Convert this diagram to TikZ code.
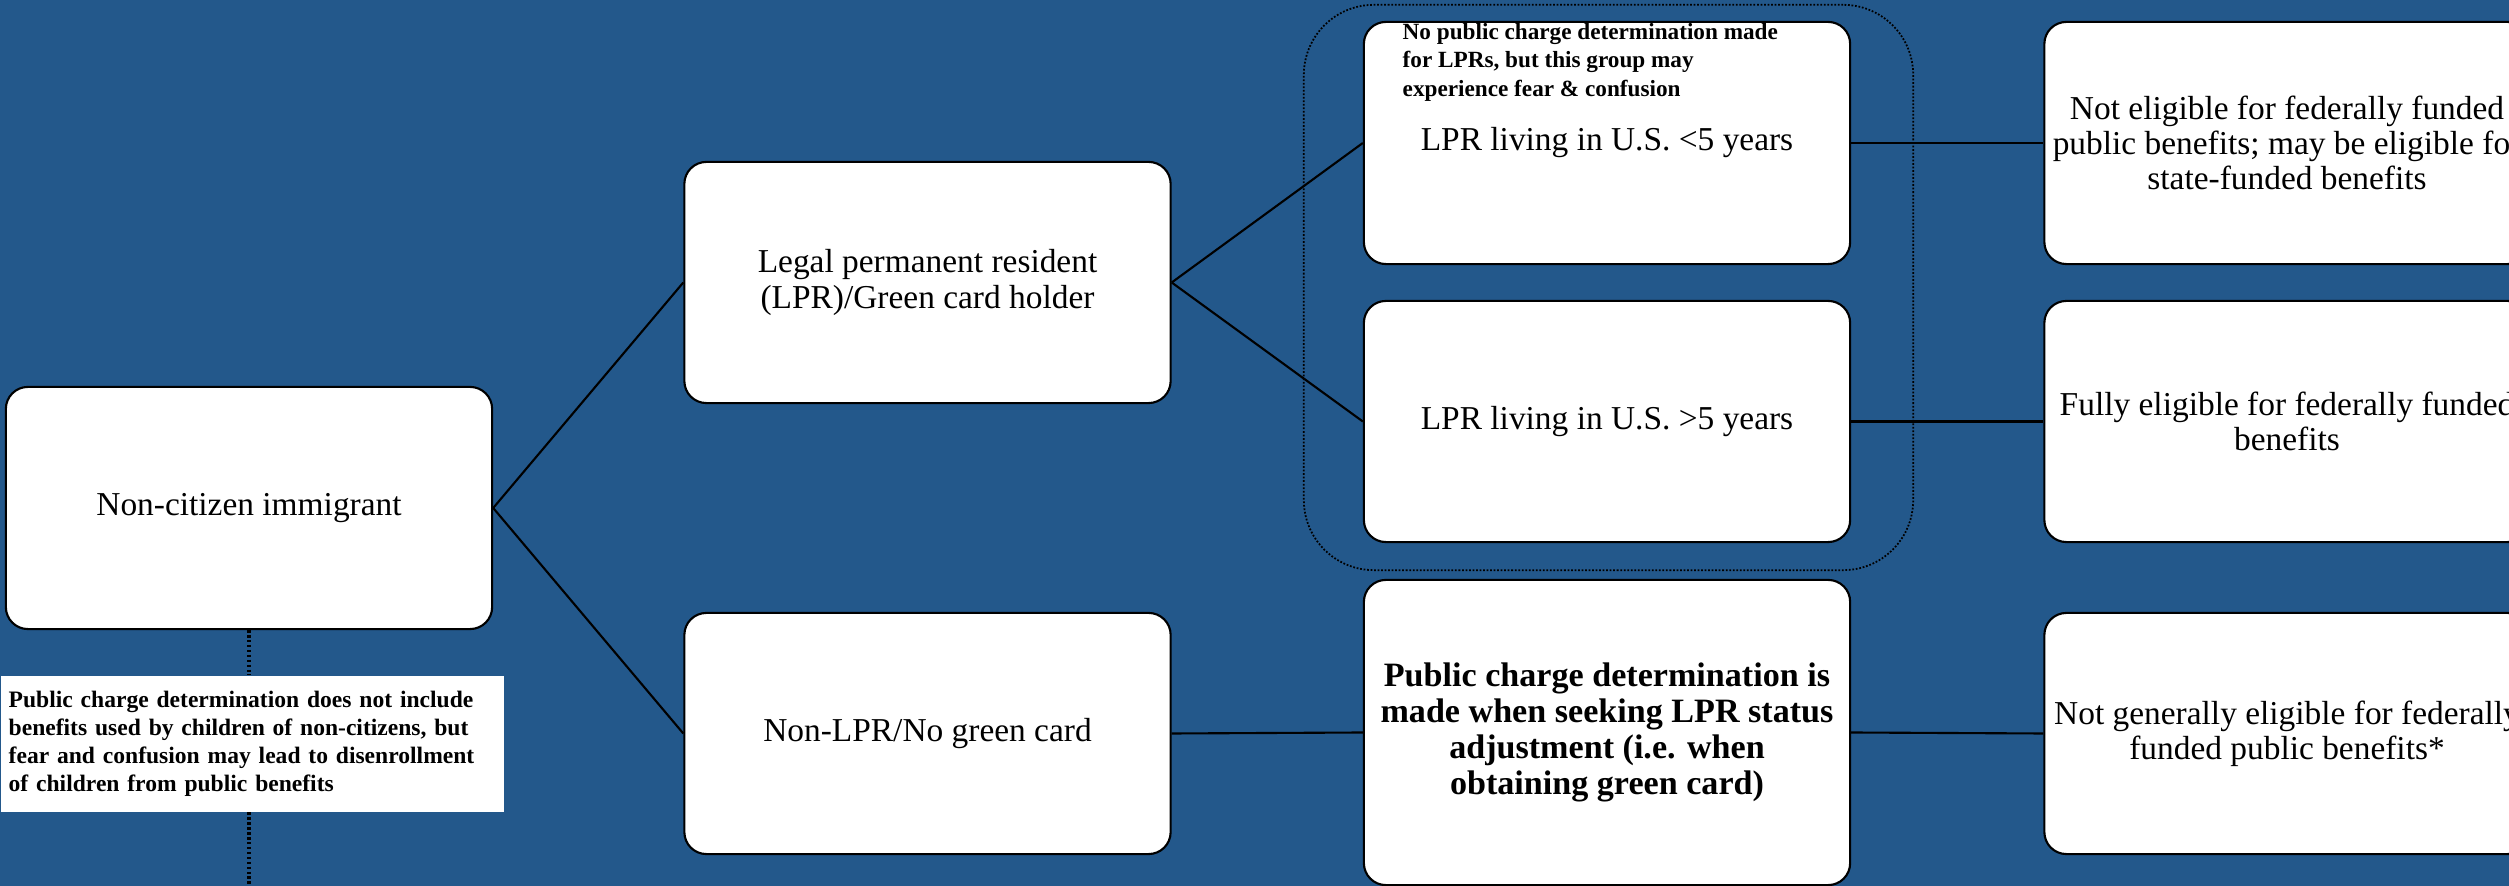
\documentclass[tikz,border=0pt]{standalone}
\usepackage{fontspec}
\setmainfont{Liberation Serif}
\definecolor{bg}{RGB}{35,88,139}
\newcommand\mainfs{\fontsize{9.5pt}{10pt}\selectfont}
\newcommand\notefs{\fontsize{6.7pt}{8pt}\selectfont\bfseries}
\newcommand\topnotefs{\fontsize{6.6pt}{8pt}\selectfont\bfseries}
\begin{document}
\begin{tikzpicture}[x=0.01cm,y=-0.01cm,
  box/.style={draw=black, line width=0.6pt, fill=white, rounded corners=0.22cm,
    minimum width=4.86cm, minimum height=2.42cm, align=center, font=\mainfs, inner sep=0pt},
  conn/.style={draw=black, line width=0.6pt},
  dotconn/.style={draw=black, line width=1pt, dash pattern=on 0.7pt off 0.7pt},
  groupbox/.style={draw=black, line width=0.5pt, dash pattern=on 0.5pt off 0.5pt,
    rounded corners=0.7cm, minimum width=6.09cm, minimum height=5.65cm, inner sep=0pt},
  notebox/.style={fill=white, inner xsep=0.08cm, inner ysep=0pt, text width=4.87cm,
    minimum height=1.36cm, align=left, font=\notefs},
  toptext/.style={inner sep=0pt, align=left, font=\topnotefs}
]
\useasboundingbox (0,0) rectangle (2509,886);
\clip (0,0) rectangle (2509,886);
\fill[bg] (0,0) rectangle (2509,886);

\node[groupbox] (grp) at (1608.5,287.5) {};

\node[box] (nc) at (249,508) {Non-citizen immigrant};
\node[box, minimum height=2.41cm] (lpr) at (927.5,282.5) {Legal permanent resident\\(LPR)/Green card holder};
\node[box, minimum height=2.41cm] (nonlpr) at (927.5,733.5) {Non-LPR/No green card};
\node[box] (lpr5) at (1607,143) {LPR living in U.S. {<}5 years};
\node[box, minimum height=2.41cm] (lpr5b) at (1607,421.5) {LPR living in U.S. {>}5 years};
\node[box, minimum height=3.05cm, font=\fontsize{9.7pt}{10.2pt}\selectfont\bfseries] (pc) at (1607,732.5) {Public charge determination is\\made when seeking LPR status\\adjustment (i.e. when\\obtaining green card)};
\node[box, minimum width=4.85cm] (r1) at (2287,143) {Not eligible for federally funded\\public benefits; may be eligible for\\state-funded benefits};
\node[box, minimum width=4.85cm, minimum height=2.41cm] (r2) at (2287,421.5) {Fully eligible for federally funded\\benefits};
\node[box, minimum width=4.85cm, minimum height=2.41cm] (r3) at (2287,733.5) {Not generally eligible for federally\\funded public benefits*};

\node[toptext, anchor=north west] (lprnote) at (1402,23) {No public charge determination made\\for LPRs, but this group may\\experience fear \& confusion};

\node[notebox, anchor=north west] (note) at (0,675) {Public charge determination does not include\\benefits used by children of non-citizens, but\\fear and confusion may lead to disenrollment\\of children from public benefits};

\coordinate (bot) at (249,886);

\draw[conn] (nc.east) -- (lpr.west);
\draw[conn] (nc.east) -- (nonlpr.west);
\draw[conn] (lpr.east) -- (lpr5.west);
\draw[conn] (lpr.east) -- (lpr5b.west);
\draw[conn] (nonlpr.east) -- (pc.west);
\draw[conn] (lpr5.east) -- (r1.west);
\draw[conn] (lpr5b.east) -- (r2.west);
\draw[conn] (pc.east) -- (r3.west);
\draw[dotconn] (nc.south) -- (nc.south |- note.north);
\draw[dotconn] (nc.south |- note.south) -- (bot);
\end{tikzpicture}
\end{document}
